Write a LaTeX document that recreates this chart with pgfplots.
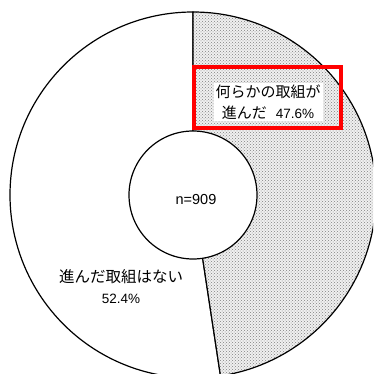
\documentclass[border=0pt]{standalone}
\usepackage{pgfplots}
\pgfplotsset{compat=1.18}
\usepackage{pgfplotstable}
\usepackage{fontspec}
\setmainfont{Liberation Sans}
\newfontfamily\jp{Noto Sans CJK JP}
\usetikzlibrary{patterns}
\pgfplotstableread{
part value
yes 47.6
no 52.4
}\pietable
\begin{document}
\begin{tikzpicture}
\pgfplotstablegetelem{0}{value}\of\pietable
\pgfmathsetmacro\valA{\pgfplotsretval}
\pgfplotstablegetelem{1}{value}\of\pietable
\pgfmathsetmacro\valB{\pgfplotsretval}
\pgfmathsetmacro\angA{90-3.6*\valA}
\pgfmathsetmacro\angB{90+3.6*\valB}
\begin{axis}[
  x=1pt, y=1pt,
  xmin=0, xmax=373, ymin=0, ymax=374,
  hide axis, clip=true,
]
% slice: no progress (white)
\filldraw[fill=white, draw=black, line width=1.2pt]
  (axis cs:193,179) -- (axis cs:193,362) arc[start angle=90, end angle=\angB, radius=183pt] -- cycle;
% slice: progress (dotted)
\fill[gray!12] (axis cs:193,179) -- (axis cs:193,362) arc[start angle=90, end angle=\angA, radius=183pt] -- cycle;
\fill[pattern=crosshatch dots, pattern color=gray]
  (axis cs:193,179) -- (axis cs:193,362) arc[start angle=90, end angle=\angA, radius=183pt] -- cycle;
\draw[black, line width=1.2pt]
  (axis cs:193,179) -- (axis cs:193,362) arc[start angle=90, end angle=\angA, radius=183pt] -- cycle;
% inner hole
\filldraw[fill=white, draw=black, line width=1.2pt] (axis cs:193,179) circle[radius=64pt];
\node[font=\fontsize{14.5}{16}\selectfont] at (axis cs:196,174) {n=909};
% left label
\node[align=center, font=\fontsize{15.5}{21}\selectfont] at (axis cs:121,87)
  {{\jp 進んだ取組はない}\\{\fontsize{13.5}{21}\selectfont 52.4\%}};
% right label with red box
\draw[red, line width=4.8pt] (axis cs:194,307) rectangle (axis cs:341,246);
\node[align=center, fill=white, inner sep=2pt, font=\fontsize{15}{21}\selectfont] at (axis cs:268,272)
  {{\jp 何らかの取組が}\\{\jp 進んだ}\hspace{0.6em}{\fontsize{13.5}{21}\selectfont 47.6\%}};
\end{axis}
\pgfresetboundingbox
\path[use as bounding box] (current axis.south west) rectangle (current axis.north east);
\end{tikzpicture}
\end{document}
